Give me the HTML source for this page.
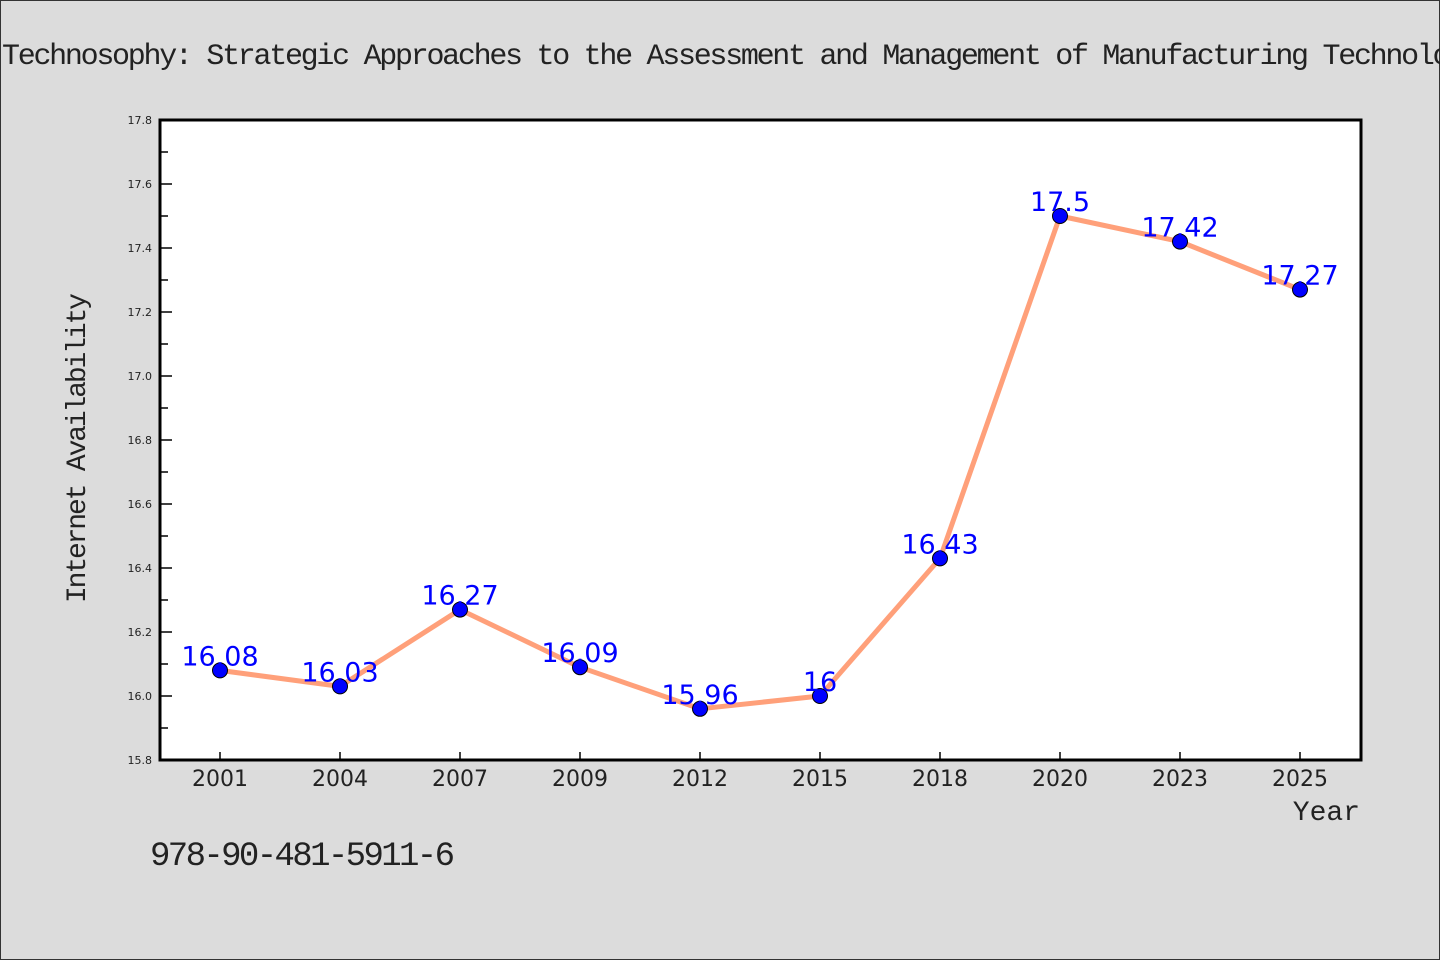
<!DOCTYPE html>
<html><head><meta charset="utf-8">
<style>
html,body{margin:0;padding:0;background:#dcdcdc;}
svg{display:block;}
.mono{font-family:"WenQuanYi Zen Hei","Liberation Mono",monospace;}
.sans{font-family:"DejaVu Sans","Liberation Sans",sans-serif;}
</style></head>
<body>
<svg id="chart" width="1440" height="960" xmlns="http://www.w3.org/2000/svg">
<rect x="0.5" y="0.5" width="1439" height="959" fill="#dcdcdc" stroke="#333" stroke-width="1"/>
<text x="2" y="64" class="mono" font-size="30" fill="#222" textLength="1480">Technosophy: Strategic Approaches to the Assessment and Management of Manufacturing Technology</text>
<rect x="160" y="120" width="1201" height="640" fill="#fff"/>
<g id="yticks"></g>
<g id="xticks"></g>
<g id="series"></g>
<path d="M160,120 H1361 V760 H160 Z" fill="none" stroke="#000" stroke-width="3"/>
<text transform="translate(85,448) rotate(-90)" text-anchor="middle" class="mono" font-size="28" fill="#222" textLength="310">Internet Availability</text>
<text x="1360" y="820" text-anchor="end" class="mono" font-size="28" fill="#222">Year</text>
<text x="150" y="865" class="mono" font-size="34" fill="#222" textLength="305">978-90-481-5911-6</text>
</svg>
<script>
const categories = ["2001","2004","2007","2009","2012","2015","2018","2020","2023","2025"];
const values = [16.08,16.03,16.27,16.09,15.96,16.0,16.43,17.5,17.42,17.27];
const valueLabels = ["16.08","16.03","16.27","16.09","15.96","16","16.43","17.5","17.42","17.27"];
const yTicks = [15.8,16.0,16.2,16.4,16.6,16.8,17.0,17.2,17.4,17.6,17.8];
const yMin = 15.8, yMax = 17.8;
const L = 160, R = 1360, T = 120, B = 760;
const NS = "http://www.w3.org/2000/svg";
function x(i){ return L + (R - L) / categories.length * (i + 0.5); }
function y(v){ return B - (v - yMin) / (yMax - yMin) * (B - T); }
function mk(tag, attrs, parent){ const e = document.createElementNS(NS, tag); for (const k in attrs) e.setAttribute(k, attrs[k]); parent.appendChild(e); return e; }
const yg = document.getElementById('yticks');
yTicks.forEach((t, i) => {
  const ln = mk('line', {x1: L, x2: L + 12, y1: y(t), y2: y(t), stroke: '#000', 'stroke-width': 1.5}, yg);
  
  
  const tx = mk('text', {x: 152, y: y(t) + 4, 'text-anchor': 'end', 'font-size': 11, fill: '#222', class: 'sans'}, yg);
  tx.textContent = t.toFixed(1);
  
  
  if (i < yTicks.length - 1) {
    const m = mk('line', {x1: L, x2: L + 8, y1: y(t + 0.1), y2: y(t + 0.1), stroke: '#000', 'stroke-width': 1.5}, yg);
    
    
  }
});
const xg = document.getElementById('xticks');
categories.forEach((c, i) => {
  const ln = mk('line', {x1: x(i), x2: x(i), y1: B, y2: B - 8, stroke: '#000', 'stroke-width': 1.5}, xg);
  
  
  const tx = mk('text', {x: x(i), y: 786, 'text-anchor': 'middle', 'font-size': 22, fill: '#222', class: 'sans'}, xg);
  tx.textContent = c;
  
  
});
const sg = document.getElementById('series');
const line = mk('polyline', {points: values.map((v, i) => x(i) + ',' + y(v)).join(' '), fill: 'none', stroke: '#FFA07A', 'stroke-width': 5, 'stroke-linejoin': 'round'}, sg);


values.forEach((v, i) => {
  const c = mk('circle', {cx: x(i), cy: y(v), r: 7.5, fill: '#0000ff', stroke: '#000', 'stroke-width': 1}, sg);
  
  
});
values.forEach((v, i) => {
  const t = mk('text', {x: x(i), y: y(v) - 5, 'text-anchor': 'middle', 'font-size': 27, fill: '#0000ff', class: 'sans'}, sg);
  t.textContent = valueLabels[i];
  
  
});
</script>
</body></html>
